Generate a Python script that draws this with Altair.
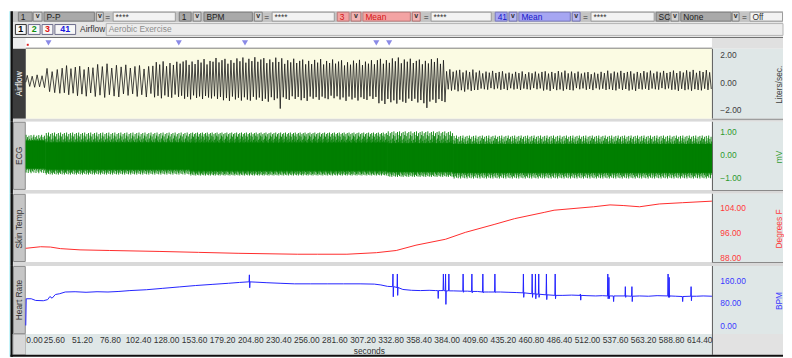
import altair as alt
import pandas as pd

FONT = "Liberation Sans"

# ---------------- data ----------------
T_MAX = 626.0
X_TICKS = [0.0, 25.6, 51.2, 76.8, 102.4, 128.0, 153.6, 179.2, 204.8, 230.4, 256.0,
           281.6, 307.2, 332.8, 358.4, 384.0, 409.6, 435.2, 460.8, 486.4, 512.0,
           537.6, 563.2, 588.8, 614.4]
EVENT_T = [20.7, 139.6, 200.0, 319.8, 331.5]

# Airflow: breathing segments (start, end, number of breaths, peak, trough) in L/s
AIR_SEG_START = [0, 18, 32, 60, 90, 115, 140, 170, 200, 230, 260, 290, 320, 350, 383, 410, 440, 470, 500, 530, 560, 590]
AIR_SEG_END = [18, 32, 60, 90, 115, 140, 170, 200, 230, 260, 290, 320, 350, 383, 410, 440, 470, 500, 530, 560, 590, 626]
AIR_CYCLES = [4, 3, 7, 7, 6, 8, 11, 11, 11, 11, 11, 11, 11, 12, 9, 10, 10, 10, 10, 10, 10, 12]
AIR_PEAK = [0.5, 0.9, 1.1, 1.2, 1.15, 1.35, 1.5, 1.6, 1.65, 1.55, 1.5, 1.45, 1.6, 1.55,
            0.85, 0.75, 0.7, 0.75, 0.7, 0.75, 0.75, 0.8]
AIR_TROUGH = [-0.35, -0.75, -0.9, -1.0, -0.95, -1.05, -1.1, -1.2, -1.25, -1.2, -1.15, -1.2, -1.4, -1.35,
              -0.6, -0.5, -0.5, -0.55, -0.5, -0.55, -0.5, -0.55]
# breath-to-breath size variation seen in the trace (relative)
AIR_VAR = [1.0, 0.88, 1.08, 0.95, 1.12, 0.86, 1.03, 0.93, 1.1, 0.9, 1.0, 1.06, 0.84]
AIR_DEEP_T = [231.0, 367.0]
AIR_DEEP_V = [-1.9, -1.85]

# ECG: segments (start, end, beats, body top, body bottom, R peak, S trough) in mV
ECG_SEG_START = [0, 18, 150, 330, 390]
ECG_SEG_END = [18, 150, 330, 390, 626]
ECG_BEATS = [28, 264, 444, 128, 440]
ECG_BODY_TOP = [0.6, 0.52, 0.5, 0.48, 0.45]
ECG_BODY_BOT = [-0.62, -0.66, -0.7, -0.75, -0.8]
ECG_PEAK = [0.85, 0.95, 0.95, 1.0, 0.82]
ECG_LOW = [-0.82, -0.88, -0.92, -0.98, -1.05]
ECG_SPIKE = [1.0, 0.2, 0.6, 0.05, 0.85, 0.3, 0.0, 0.95, 0.4, 0.1, 0.7]

# Skin temperature (deg F)
SKIN_T = [0, 13.5, 22.5, 31.5, 49.5, 76.6, 121.6, 157.7, 193.7, 247.7, 266, 293, 320, 338, 356,
          383, 401, 428, 446, 473, 482, 518, 533, 545, 560, 578, 599, 626]
SKIN_F = [90.9, 91.4, 91.3, 90.8, 90.4, 90.2, 89.9, 89.6, 89.3, 89.0, 89.0, 89.0, 89.5, 90.2, 91.9,
          93.8, 96.0, 98.6, 100.4, 102.4, 103.1, 104.2, 104.8, 104.6, 104.2, 105.1, 105.5, 106.0]

# Heart rate (BPM) baseline and artefact spikes
HR_T = [0, 0.4, 5, 9, 16, 20, 22, 24, 27, 31, 36, 45, 55, 65, 75, 85, 95, 110, 125, 140, 155, 170,
        185, 195, 203, 210, 220, 232, 245, 260, 275, 290, 305, 318, 324, 330, 344, 352, 360, 368,
        374, 378, 390, 403, 412, 422, 433, 440, 448, 490, 498, 512, 520, 526, 560, 568, 576, 593,
        612, 618, 626]
HR_BPM = [0, 95, 95, 89, 88, 92, 103, 97, 110, 113, 119, 120, 118, 120, 119, 121, 124, 127, 132, 137,
          142, 146, 150, 153, 155, 154, 152, 150, 148, 148, 148, 148, 148, 147, 144, 139, 128, 125,
          124, 125, 124, 124, 123, 122, 121, 119, 119, 118, 117, 107, 108, 106, 105, 106, 105, 104,
          106, 104, 104, 105, 104]
SPK_T = [204, 335, 339, 376, 381, 383, 386, 399, 407, 417, 428, 454, 462, 465, 468, 475, 483, 506,
         531, 532, 536, 547, 553, 586, 587, 599, 607]
SPK_BASE = [155, 138, 135, 124, 124, 123, 123, 122, 121, 119, 119, 116, 113, 112, 111, 109, 107, 107,
            105, 105, 105, 105, 104, 105, 105, 103, 104]
SPK_UP = [180, 183, 183, 124, 183, 183, 183, 183, 183, 183, 183, 183, 183, 183, 183, 183, 183, 112,
          183, 171, 105, 138, 138, 183, 171, 103, 138]
SPK_DOWN = [134, 102, 107, 96, 124, 75, 123, 118, 116, 116, 117, 100, 100, 95, 100, 92, 95, 90,
            95, 95, 85, 100, 85, 100, 100, 85, 88]

# ---------------- build tables ----------------
air = [(0.0, 0.0)]
troughs = []
c = 0
for s, e, n, pk, tr in zip(AIR_SEG_START, AIR_SEG_END, AIR_CYCLES, AIR_PEAK, AIR_TROUGH):
    per = (e - s) / n
    for k in range(n):
        air.append((s + (k + 0.3) * per, pk * AIR_VAR[c % len(AIR_VAR)]))
        air.append((s + (k + 0.8) * per, tr * AIR_VAR[(c + 5) % len(AIR_VAR)]))
        troughs.append(len(air) - 1)
        c += 1
for dt, dv in zip(AIR_DEEP_T, AIR_DEEP_V):
    i = min(troughs, key=lambda j: abs(air[j][0] - dt))
    air[i] = (air[i][0], dv)
air_df = pd.DataFrame(air, columns=["t", "v"])

ecg = []
idx = 0
for s, e, n, bt, bb, pk, lw in zip(ECG_SEG_START, ECG_SEG_END, ECG_BEATS, ECG_BODY_TOP,
                                   ECG_BODY_BOT, ECG_PEAK, ECG_LOW):
    per = (e - s) / n
    for k in range(n):
        p1 = ECG_SPIKE[idx % len(ECG_SPIKE)]
        p2 = ECG_SPIKE[(idx + 4) % len(ECG_SPIKE)]
        ecg.append((s + (k + 0.5) * per, bb - p2 * (bb - lw), bt + p1 * (pk - bt)))
        idx += 1
ecg_df = pd.DataFrame(ecg, columns=["t", "lo", "hi"])
ecg_body_df = pd.DataFrame({"t0": ECG_SEG_START, "t1": ECG_SEG_END,
                            "lo": ECG_BODY_BOT, "hi": ECG_BODY_TOP})

skin_df = pd.DataFrame({"t": SKIN_T, "f": SKIN_F})

hr = list(zip(HR_T, HR_BPM))
for t, b, u, d in zip(SPK_T, SPK_BASE, SPK_UP, SPK_DOWN):
    hr += [(t - 0.3, b), (t, u), (t + 0.3, d), (t + 0.6, b)]
hr.sort()
hr_df = pd.DataFrame(hr, columns=["t", "bpm"])

ev_df = pd.DataFrame({"t": EVENT_T})

# ---------------- helpers ----------------
ONE = pd.DataFrame({"k": [0]})
W = 695          # plot width (page x 25..720)
RW = 72          # right axis strip
X0 = 25          # page x of plot left


def rect(x0, x1, y0, y1, fill, stroke=None, sw=1.0):
    if stroke is None:
        m = alt.Chart(ONE).mark_rect(fill=fill, strokeWidth=0)
    else:
        m = alt.Chart(ONE).mark_rect(fill=fill, stroke=stroke, strokeWidth=sw)
    return m.encode(x=alt.value(x0), x2=alt.value(x1), y=alt.value(y0), y2=alt.value(y1))


def txt(s, x, y, color="#222222", size=8.5, align="left", angle=0, weight="normal"):
    return alt.Chart(ONE).mark_text(text=s, color=color, fontSize=size, align=align,
                                    baseline="middle", angle=angle, fontWeight=weight,
                                    font=FONT).encode(x=alt.value(x), y=alt.value(y))


XS = alt.Scale(domain=[0, T_MAX], nice=False, zero=False)


def yaxis(vals, color):
    return alt.Axis(orient="right", values=vals, format=".2f", labelColor=color, labelFont=FONT,
                    labelFontSize=8.5, labelPadding=8, ticks=False, tickSize=0, domain=False,
                    grid=False, title=None, zindex=1, labelAlign="left", labelBaseline="middle",
                    labelOverlap=False)


def frame(h_data, h_tot, bg, lfill, lstroke, ltext, lcolor, rtitle, rcolor, y_top=0, y_bot=None):
    if y_bot is None:
        y_bot = h_tot
    L = [
        rect(-17, -15.5, y_top, y_bot, "#c6f5fb"),
        rect(-15.5, -13, y_top, y_bot, "#101010"),
        rect(0, W, 0, h_data, bg),
        rect(W, W + RW, 0, h_data, "#dfe7e7"),
        rect(W, W + 1, 0, h_data, "#5a5a5a"),
    ]
    if lstroke is None:
        L.append(rect(-13, 0, 0, h_data, lfill))
    else:
        L.append(rect(-12.5, -0.5, 0.5, h_data - 0.5, lfill, lstroke, 1))
    if h_tot > h_data:
        L.append(rect(-13, W + RW, h_data, h_tot, "#d9d9d9"))
        L.append(rect(W, W + RW, h_data, h_data + 1, "#8a8a8a"))
    L.append(txt(ltext, -6.5, h_data / 2, color=lcolor, size=8.5, align="center", angle=270))
    L.append(txt(rtitle, 763, h_data / 2 + 1, color=rcolor, size=8.5, align="center", angle=270))
    return L


# ---------------- toolbar (page coords -> panel 1 coords) ----------------
P1_TOP = 46
STY = {
    "g": ("#a9a9a9", "#7c7c7c", "#1e1e1e"),
    "w": ("#f2f2f2", "#9a9a9a", "#333333"),
    "p": ("#f3a3a3", "#c07878", "#d41414"),
    "b": ("#a6a6f2", "#7878c0", "#1616c8"),
    "dg": ("#d2d2d2", "#808080", "#303030"),
    "dp": ("#f0b4b4", "#b07070", "#303030"),
    "db": ("#b8b8f0", "#7070b0", "#303030"),
}
TB1 = [(17, 32, "g", "1"), (32, 42, "dg", "v"), (43, 95, "g", "P-P"), (96, 104, "dg", "v"),
       (104, 112, "eq", "="), (113, 177, "w", "****"), (180, 193, "g", "1"), (194, 203, "dg", "v"),
       (205, 255, "g", "BPM"), (256, 265, "dg", "v"), (265, 273, "eq", "="), (274, 338, "w", "****"),
       (340, 353, "p", "3"), (354, 365, "dp", "v"), (366, 415, "p", "Mean"), (416, 425, "dp", "v"),
       (427, 434, "eq", "="), (435, 497, "w", "****"), (500, 513, "b", "41"), (514, 523, "db", "v"),
       (524, 577, "b", "Mean"), (578, 587, "db", "v"), (588, 596, "eq", "="), (597, 662, "w", "****"),
       (663, 677, "g", "SC"), (678, 687, "dg", "v"), (688, 740, "g", "None"), (740, 748, "dg", "v"),
       (749, 757, "eq", "="), (758, 792, "w", "Off")]
TABS = [(14, 26, "1", "#000000"), (27, 40, "2", "#109010"), (41, 53, "3", "#e01010"),
        (54, 76, "41", "#1a1ae0")]


def ry(py):
    return py - P1_TOP


def rx(px):
    return px - X0


toolbar = [
    rect(rx(12), rx(792), ry(8), ry(19), "#c4c4c4"),
    rect(rx(12), rx(792), ry(19), ry(34), "#e6e6e6"),
    rect(rx(12), rx(25), ry(34), ry(46), "#efefef"),
    rect(rx(25), rx(720), ry(34), ry(46), "#ffffff"),
    rect(rx(720), rx(792), ry(34), ry(46), "#e0e0e0"),
    rect(rx(12), rx(792), ry(34), ry(35), "#707070"),
    rect(rx(25), rx(720), ry(45), ry(46), "#606060"),
    rect(rx(26), rx(28), ry(41), ry(43), "#e02020"),
]
for x0, x1, st, s in TB1:
    if st == "eq":
        toolbar.append(txt(s, rx((x0 + x1) / 2), ry(13.5), "#303030", 8.5, "center"))
        continue
    f, sk, tc = STY[st]
    toolbar.append(rect(rx(x0) + 0.5, rx(x1) - 0.5, ry(8.5) + 0.5, ry(18.5) - 0.5, f, sk, 1))
    if st.startswith("d"):
        toolbar.append(txt(s, rx((x0 + x1) / 2), ry(13), tc, 7, "center", weight="bold"))
    else:
        toolbar.append(txt(s, rx(x0 + 3), ry(13.5), tc, 8.5, "left"))
for x0, x1, s, col in TABS:
    toolbar.append(rect(rx(x0) + 0.5, rx(x1) - 0.5, ry(21) + 0.5, ry(32) - 0.5, "#f8f8f8",
                        "#303030" if s == "1" else "#6a6a8a", 1))
    toolbar.append(txt(s, rx((x0 + x1) / 2), ry(26.5), col, 9, "center", weight="bold"))
toolbar.append(txt("Airflow", rx(80), ry(26.5), "#333333", 8.5, "left"))
toolbar.append(rect(rx(106) + 0.5, rx(792), ry(20) + 0.5, ry(33) - 0.5, "#ececec", "#b4b4b4", 1))
toolbar.append(txt("Aerobic Exercise", rx(109), ry(26.5), "#8c8c8c", 8.5, "left"))

# ---------------- panels ----------------
H1, D1 = 74, 71
H2, D2 = 73, 69
H3, D3 = 73, 69
H4, D4 = 69, 69

air_line = alt.Chart(air_df).mark_line(color="#151515", strokeWidth=0.8).encode(
    x=alt.X("t:Q", scale=XS, axis=None),
    y=alt.Y("v:Q", scale=alt.Scale(domain=[-2.857, 2.4286], nice=False, zero=False),
            axis=yaxis([-2, 0, 2], "#404040")))
events = alt.Chart(ev_df).mark_point(shape="triangle-down", filled=True, size=38,
                                     color="#8a8ae6", opacity=1).encode(
    x=alt.X("t:Q", scale=XS, axis=None), y=alt.value(ry(40)))
p1 = alt.layer(*toolbar,
               *frame(D1, H1, "#fbfbe3", "#3c3c3c", None, "Airflow", "#ffffff",
                      "Liters/sec.", "#404040", y_top=ry(8)),
               air_line, events).properties(width=W, height=H1)

ECG_Y = alt.Scale(domain=[-1.717, 1.416], nice=False, zero=False)
ECG_AX = yaxis([-1, 0, 1], "#2e9a2e")
ecg_body = alt.Chart(ecg_body_df).mark_rect(color="#008000").encode(
    x=alt.X("t0:Q", scale=XS, axis=None), x2="t1:Q",
    y=alt.Y("lo:Q", scale=ECG_Y, axis=ECG_AX), y2="hi:Q")
ecg_rule = alt.Chart(ecg_df).mark_rule(color="#008000", strokeWidth=1.0, opacity=0.9).encode(
    x=alt.X("t:Q", scale=XS, axis=None),
    y=alt.Y("lo:Q", scale=ECG_Y, axis=ECG_AX),
    y2="hi:Q")
p2 = alt.layer(*frame(D2, H2, "#ffffff", "#c6c6c6", "#8a8a8a", "ECG", "#333333", "mV", "#2e9a2e"),
               ecg_body, ecg_rule).properties(width=W, height=H2)

skin_line = alt.Chart(skin_df).mark_line(color="#ff2a2a", strokeWidth=1).encode(
    x=alt.X("t:Q", scale=XS, axis=None),
    y=alt.Y("f:Q", scale=alt.Scale(domain=[85.25, 108.33], nice=False, zero=False),
            axis=yaxis([88, 96, 104], "#ff3a3a")))
p3 = alt.layer(*frame(D3, H3, "#ffffff", "#c6c6c6", "#8a8a8a", "Skin Temp.", "#333333",
                      "Degrees F", "#ff3a3a"),
               skin_line).properties(width=W, height=H3)

hr_line = alt.Chart(hr_df).mark_line(color="#2222ff", strokeWidth=1).encode(
    x=alt.X("t:Q", scale=XS,
            axis=alt.Axis(values=X_TICKS, format=".2f", labelFont=FONT, labelFontSize=8.5,
                          labelColor="#333333", labelPadding=2, ticks=False, tickSize=0,
                          domain=False, grid=False, title="seconds", titleFont=FONT,
                          titleFontSize=8.5, titleFontWeight="normal", titleColor="#333333",
                          titlePadding=2, labelFlush=True, labelOverlap=False, zindex=1)),
    y=alt.Y("bpm:Q", scale=alt.Scale(domain=[-30.5, 211.6], nice=False, zero=False),
            axis=yaxis([0, 80, 160], "#3a3aff")))
bottom = [
    rect(-13, 0, H4, H4 + 21, "#d8d8d8", "#9a9a9a", 1),
    rect(0, W, H4, H4 + 21, "#dfe7e7"),
    rect(W, W + RW, H4, H4 + 21, "#e2e2e2"),
    rect(W, W + 1, H4, H4 + 21, "#5a5a5a"),
    rect(-15.5, W + RW, H4 + 21, H4 + 23, "#101010"),
]
p4 = alt.layer(*frame(D4, H4, "#ffffff", "#c6c6c6", "#8a8a8a", "Heart Rate", "#333333", "BPM",
                      "#3a3aff", y_bot=H4 + 23),
               *bottom, hr_line).properties(width=W, height=H4)

chart = alt.vconcat(p1, p2, p3, p4, spacing=0, bounds="flush").properties(
    padding=0).configure_view(stroke="transparent")

chart.save("out.html", embed_options={"renderer": "svg", "actions": False})
